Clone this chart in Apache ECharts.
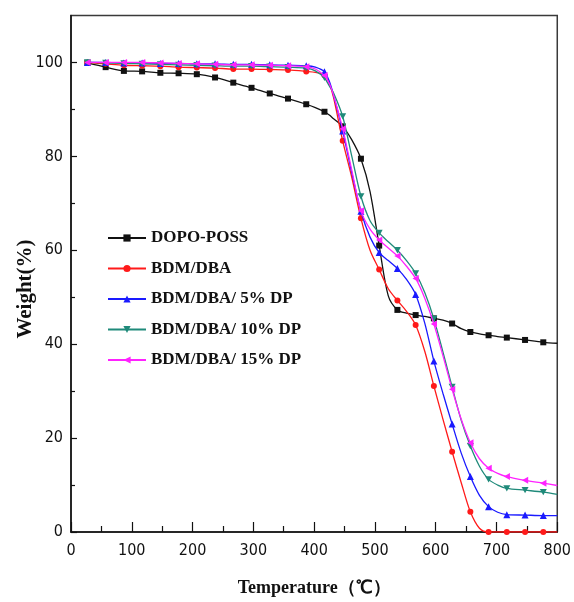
<!DOCTYPE html>
<html>
<head>
<meta charset="utf-8">
<script src="https://cdn.jsdelivr.net/npm/echarts@6/dist/echarts.min.js"></script>
<style>
  html, body { margin: 0; padding: 0; background: #fff; }
  #chart { width: 574px; height: 602px; }
</style>
</head>
<body>
<div id="chart"></div>
<script>
// TGA curves: weight retained (%) against temperature (°C)
const temperatures = [27, 57, 87, 117, 147, 177, 207, 237, 267, 297, 327, 357, 387, 402, 417, 425, 432,
  447, 462, 477, 492, 507, 522, 537, 552, 567, 582, 597, 612, 627, 642, 657, 672, 687, 702, 717,
  747, 777, 800];

const dopoPoss = [99.9, 99.0, 98.2, 98.1, 97.8, 97.7, 97.5, 96.8, 95.7, 94.6, 93.4, 92.3, 91.1, 90.4, 89.5, 88.8, 88.0,
  86.4, 83.5, 79.5, 72.5, 61.0, 50.3, 47.3, 46.6, 46.2, 45.9, 45.5, 45.1, 44.4, 43.3, 42.6, 42.2, 41.9, 41.6, 41.4,
  40.9, 40.4, 40.2];

const bdmDba = [100, 99.7, 99.4, 99.3, 99.2, 99.0, 98.9, 98.8, 98.6, 98.6, 98.5, 98.4, 98.1, 97.9, 97.3, 95.5, 92.5,
  83.3, 75.5, 66.8, 60.0, 55.9, 51.8, 49.3, 47.0, 44.1, 38.5, 31.1, 24.0, 17.1, 10.5, 4.3, 0.8, 0, 0, 0,
  0, 0, 0];

const bdmDba5 = [100, 100, 99.9, 99.9, 99.8, 99.8, 99.7, 99.7, 99.6, 99.6, 99.5, 99.4, 99.3, 99.0, 98.0, 96.0, 93.0,
  85.4, 76.5, 68.3, 62.8, 59.5, 57.8, 56.1, 53.8, 50.6, 44.5, 36.4, 29.5, 23.0, 16.8, 11.8, 7.8, 5.4, 4.2, 3.7,
  3.6, 3.5, 3.5];

const bdmDba10 = [100, 99.9, 99.8, 99.7, 99.6, 99.5, 99.4, 99.3, 99.2, 99.2, 99.1, 99.0, 98.8, 98.2, 96.7, 95.0, 93.5,
  88.5, 80.0, 71.5, 66.3, 63.7, 61.8, 60.0, 57.8, 55.1, 51.0, 45.4, 38.3, 30.9, 23.8, 18.3, 14.0, 11.2, 10.0, 9.3,
  8.9, 8.5, 8.0];

const bdmDba15 = [100, 100, 100, 100, 99.9, 99.8, 99.7, 99.6, 99.5, 99.5, 99.4, 99.3, 99.1, 98.6, 97.2, 95.5, 93.0,
  85.9, 77.0, 68.4, 64.5, 62.2, 60.5, 58.8, 56.6, 54.0, 49.8, 44.3, 37.5, 30.4, 24.0, 19.0, 15.6, 13.6, 12.5, 11.8,
  11.0, 10.4, 9.9];

const seriesNames = ['DOPO-POSS', 'BDM/DBA', 'BDM/DBA/ 5% DP', 'BDM/DBA/ 10% DP', 'BDM/DBA/ 15% DP'];
const xTicks = [0, 100, 200, 300, 400, 500, 600, 700, 800];
const yMajorTicks = [0, 20, 40, 60, 80, 100];
const yMinorTicks = [10, 30, 50, 70, 90];
const xTitle = 'Temperature\uFF08\u2103\uFF09';
const yTitle = 'Weight(%)';

// symbols are only drawn every 30 °C starting at 27 °C
const markerStep = 30;
const markerStart = 27;

const seriesValues = [dopoPoss, bdmDba, bdmDba5, bdmDba10, bdmDba15];
const seriesColors = ['#111111', '#ff1a1a', '#1a1aff', '#1f8a7a', '#ff22ff'];
const seriesSymbols = [
  'rect',
  'circle',
  'triangle',
  'path://M0,0 L10,0 L5,9 Z',
  'path://M9,0 L9,10 L0,5 Z'
];
const seriesSymbolSizes = [6, 6, 7, 7, 7];

const serif = '"Liberation Serif", "Times New Roman", serif';
const narrow = '"Liberation Sans Narrow", "Arial Narrow", "DejaVu Sans Condensed", sans-serif';

function buildData(values) {
  return temperatures.map((t, i) => {
    const marked = t <= 780 && (t - markerStart) % markerStep === 0;
    return marked ? [t, values[i]] : { value: [t, values[i]], symbol: 'none' };
  });
}

const series = seriesValues.map((values, k) => ({
  name: seriesNames[k],
  type: 'line',
  data: buildData(values),
  smooth: 0.3,
  showSymbol: true,
  symbol: seriesSymbols[k],
  symbolSize: seriesSymbolSizes[k],
  symbolKeepAspect: true,
  color: seriesColors[k],
  lineStyle: { width: 1.3, color: seriesColors[k] },
  itemStyle: { color: seriesColors[k] },
  emphasis: { disabled: true },
  z: 2 + k
}));

const chart = echarts.init(document.getElementById('chart'), null, { renderer: 'canvas' });

chart.setOption({
  animation: false,
  backgroundColor: '#ffffff',
  grid: {
    left: 71, right: 12, top: 15.5, bottom: 70,
    show: true, borderColor: '#3a3a3a', borderWidth: 1.5, backgroundColor: 'transparent'
  },
  legend: {
    orient: 'vertical',
    left: 102,
    top: 223,
    itemWidth: 38,
    itemHeight: 9,
    itemGap: 10.5,
    data: seriesNames,
    textStyle: { fontFamily: serif, fontWeight: 'bold', fontSize: 17, color: '#111', lineHeight: 20 }
  },
  graphic: [
    {
      type: 'text',
      x: 26,
      y: 289,
      rotation: Math.PI / 2,
      style: {
        text: yTitle,
        fontFamily: serif, fontWeight: 'bold', fontSize: 21, fill: '#111',
        align: 'center', verticalAlign: 'middle'
      }
    }
  ],
  xAxis: {
    type: 'value',
    min: xTicks[0],
    max: xTicks[xTicks.length - 1],
    interval: 100,
    name: xTitle,
    nameLocation: 'middle',
    nameGap: 47,
    nameTextStyle: { fontFamily: serif, fontWeight: 'bold', fontSize: 18, color: '#111' },
    axisLine: { show: true, onZero: false, lineStyle: { color: '#111', width: 1.5 } },
    axisTick: { show: true, inside: true, length: 10, lineStyle: { color: '#111', width: 1.2 } },
    minorTick: { show: true, splitNumber: 2, length: 6, lineStyle: { color: '#111', width: 1.2 } },
    axisLabel: { fontFamily: narrow, fontSize: 16, color: '#111', margin: 11 },
    splitLine: { show: false }
  },
  yAxis: [
    {
      type: 'value',
      min: 0,
      max: 110,
      interval: 20,
      axisLine: { show: true, onZero: false, lineStyle: { color: '#111', width: 1.5 } },
      axisTick: { show: true, inside: true, length: 6, customValues: yMajorTicks, lineStyle: { color: '#111', width: 1.2 } },
      axisLabel: { fontFamily: narrow, fontSize: 16, color: '#111', margin: 8, customValues: yMajorTicks },
      splitLine: { show: false }
    },
    {
      type: 'value',
      min: 0,
      max: 110,
      position: 'left',
      axisLine: { show: false },
      axisTick: { show: true, inside: true, length: 4, customValues: yMinorTicks, lineStyle: { color: '#111', width: 1.2 } },
      axisLabel: { show: false },
      splitLine: { show: false }
    }
  ],
  series: series
});
</script>
</body>
</html>
